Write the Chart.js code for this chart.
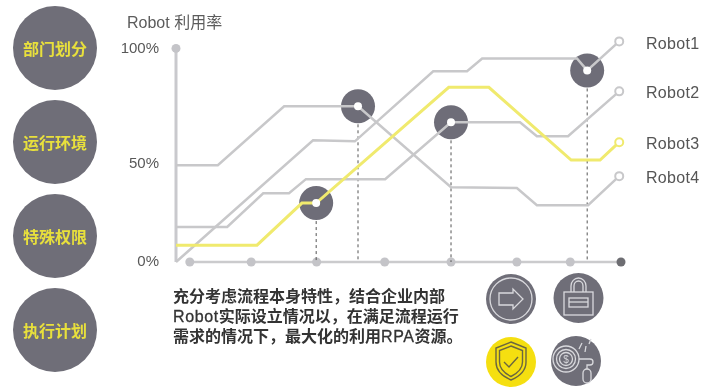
<!DOCTYPE html>
<html lang="zh">
<head>
<meta charset="utf-8">
<title>Robot 利用率</title>
<script src="https://cdn.jsdelivr.net/npm/chart.js@4"></script>
<style>
    html, body { margin: 0; padding: 0; background: #fff; }
    #page { position: relative; width: 701px; height: 389px; overflow: hidden; font-family: "Liberation Sans", "Noto Sans CJK SC", sans-serif; }
    #chart { position: absolute; left: 0; top: 0; }
    .badge {
        position: absolute; left: 13px; width: 84px; height: 84px; border-radius: 50%;
        background: #6f6e78; color: #e8e03c; display: flex; align-items: center; justify-content: center;
        font: 700 16px "Noto Sans CJK SC", sans-serif;
    }
    .axis-title { position: absolute; left: 127px; top: 13px; font-size: 16px; line-height: 20px; color: #5c5c5c; }
    .series-name { position: absolute; left: 646px; font-size: 16px; line-height: 20px; color: #555; letter-spacing: 0.3px; }
    .note {
        position: absolute; left: 173px; top: 286px; white-space: nowrap;
        font: 700 16px/19.6px "Noto Sans CJK SC", sans-serif; color: #333;
    }
    .note span { font: 400 16px/19.6px "Liberation Sans", sans-serif; letter-spacing: 0.6px; -webkit-text-stroke: 0.3px #333; }
    #icons { position: absolute; left: 0; top: 0; }
    #icons .thin { fill: none; stroke: #d9d9dd; stroke-width: 1.3; }
    #icons .dark { fill: none; stroke: #6b6740; stroke-width: 1.4; }
</style>
</head>
<body>
<div id="page">
    <canvas id="chart" width="701" height="389"></canvas>
    <div class="axis-title">Robot 利用率</div>
    <div id="badges"></div>
    <div id="names"></div>
    <div class="note">充分考虑流程本身特性，结合企业内部<br><span>Robot</span>实际设立情况以，在满足流程运行<br>需求的情况下，最大化的利用<span>RPA</span>资源。</div>
    <svg id="icons" width="701" height="389">
        <!-- process -->
        <circle cx="511" cy="299" r="25" fill="#6f6e78"/>
        <circle class="thin" cx="511" cy="299" r="21"/>
        <path class="thin" d="M499,293H513V289L523,299L513,309V305H499Z"/>
        <!-- lock -->
        <circle cx="578.5" cy="298" r="25" fill="#6f6e78"/>
        <rect class="thin" x="564" y="292" width="29" height="23"/>
        <path class="thin" d="M571,292V286A7.5,8 0 0 1 586,286V292M574,292V286A4.5,5 0 0 1 583,286V292"/>
        <rect class="thin" x="569" y="298" width="19" height="9"/>
        <path class="thin" d="M569,302H588"/>
        <!-- shield -->
        <circle cx="511" cy="362" r="25" fill="#f5df10"/>
        <path class="dark" d="M511,342L526,348V362C526,371 518,377 511,380C504,377 496,371 496,362V348Z"/>
        <path class="dark" d="M511,346L522.500,350.500V362C522.500,369 516,374 511,376.500C506,374 499.500,369 499.500,362V350.500Z"/>
        <path class="dark" d="M504,362L509,367L518,357" stroke-width="2"/>
        <!-- coin and mouse -->
        <circle cx="576" cy="361" r="25" fill="#6f6e78"/>
        <circle class="thin" cx="566" cy="359" r="13"/>
        <circle class="thin" cx="566" cy="359" r="9.500"/>
        <circle class="thin" cx="566" cy="359" r="6.500"/>
        <text x="566" y="363" text-anchor="middle" font-size="10" fill="#d9d9dd">$</text>
        <path class="thin" d="M579,359H590C594,359 594,365 590,365H587V369"/>
        <rect class="thin" x="583" y="369" width="8" height="14" rx="4"/>
        <path class="thin" d="M579,349L582,343M585,352L586,346M589,344L591,339"/>
    </svg>
</div>
<script>
// ── Robot utilisation chart ───────────────────────────────────────────────
const seriesNames = ['Robot1', 'Robot2', 'Robot3', 'Robot4'];
const robot1X = [0, 30.8, 40.2, 57.8, 65.4, 68.8, 90.1, 92.4, 99.6];
const robot1Y = [0, 57.0, 56.5, 89.3, 89.3, 95.3, 95.3, 89.7, 103.3];
const robot2X = [0, 11.5, 19.6, 25.4, 29.2, 47.0, 61.8, 77.3, 81.1, 88.1, 99.6];
const robot2Y = [16.4, 16.4, 32.2, 32.2, 38.8, 38.8, 65.4, 65.4, 58.9, 58.9, 79.9];
const robot3X = [0, 18.2, 28.3, 31.5, 61.3, 70.3, 88.8, 95.3, 99.6];
const robot3Y = [7.9, 7.9, 27.6, 27.6, 81.8, 81.8, 47.7, 47.7, 56.1];
const robot4X = [0, 9.4, 24.3, 40.9, 61.8, 76.6, 81.1, 92.6, 99.6];
const robot4Y = [45.3, 45.3, 72.9, 72.9, 35.0, 34.6, 26.6, 26.6, 40.2];

// highlighted points on the lines, each with a drop line to the time axis
const hubX = [31.5, 40.9, 61.8, 92.4];
const hubY = [27.6, 72.9, 65.4, 89.7];

const axisDotX = [3.1, 16.9, 31.6, 46.9, 61.8, 76.6, 88.6, 100];
const yTickValues = [0, 45.8, 100];
const yTickLabels = ['0%', '50%', '100%'];

const badgeLabels = ['部门划分', '运行环境', '特殊权限', '执行计划'];
const badgeTops = [6, 100, 194, 288];
const nameTops = [34, 83, 134, 168];

const GREY = '#c8c8ca';
const AXIS_GREY = '#c9c9cd';
const YELLOW = '#f0ea6e';
const HUB = '#6e6d78';

badgeLabels.forEach((txt, i) => {
    const el = document.createElement('div');
    el.className = 'badge';
    el.style.top = badgeTops[i] + 'px';
    el.textContent = txt;
    document.getElementById('badges').appendChild(el);
});

seriesNames.forEach((txt, i) => {
    const el = document.createElement('div');
    el.className = 'series-name';
    el.style.top = nameTops[i] + 'px';
    el.textContent = txt;
    document.getElementById('names').appendChild(el);
});

function toPoints(xs, ys) {
    return xs.map((x, i) => ({ x, y: ys[i] }));
}

function robotDataset(name, xs, ys, color, width, order) {
    return {
        label: name,
        data: toPoints(xs, ys),
        borderColor: color,
        borderWidth: width,
        backgroundColor: '#fff',
        pointBackgroundColor: '#fff',
        pointBorderColor: color,
        pointBorderWidth: 2,
        pointRadius: ctx => ctx.dataIndex === xs.length - 1 ? 4 : 0,
        pointHoverRadius: 0,
        clip: false,
        order
    };
}

const datasets = [
    // white centres stay above every line
    {
        data: toPoints(hubX, hubY), showLine: false, pointRadius: 4, pointBorderWidth: 0,
        pointBackgroundColor: '#fff', clip: false, order: 1
    },
    robotDataset(seriesNames[2], robot3X, robot3Y, YELLOW, 3, 2),
    robotDataset(seriesNames[0], robot1X, robot1Y, GREY, 2.5, 3),
    robotDataset(seriesNames[1], robot2X, robot2Y, GREY, 2.5, 3),
    robotDataset(seriesNames[3], robot4X, robot4Y, GREY, 2.5, 3),
    {
        data: toPoints(hubX, hubY), showLine: false, pointRadius: 17, pointBorderWidth: 0,
        pointBackgroundColor: HUB, clip: false, order: 4
    },
    // time axis with its stops, the last one darker
    {
        data: axisDotX.map(x => ({ x, y: 0 })),
        borderColor: '#cbcbcd', borderWidth: 2.5,
        pointRadius: 4.5, pointBorderWidth: 0,
        pointBackgroundColor: axisDotX.map((x, i) => i === axisDotX.length - 1 ? '#6d6d72' : '#c4c4c8'),
        clip: false, order: 6
    },
    // value axis with a cap on top
    {
        data: [{ x: 0, y: 0 }, { x: 0, y: 100 }],
        borderColor: AXIS_GREY, borderWidth: 3,
        pointRadius: ctx => ctx.dataIndex === 1 ? 4.5 : 0, pointBorderWidth: 0,
        pointBackgroundColor: '#c4c4c8', clip: false, order: 6
    }
];

hubX.forEach((x, i) => {
    datasets.push({
        data: [{ x, y: hubY[i] }, { x, y: 0 }],
        borderColor: '#555', borderWidth: 1, borderDash: [3, 3],
        pointRadius: 0, clip: false, order: 5
    });
});

new Chart(document.getElementById('chart').getContext('2d'), {
    type: 'line',
    data: { datasets },
    options: {
        animation: false,
        responsive: false,
        events: [],
        // top padding leaves head room above 100 for the Robot1 end point
        layout: { padding: { left: 0, right: 80, top: 22, bottom: 127 } },
        plugins: { legend: { display: false }, tooltip: { enabled: false } },
        scales: {
            x: { type: 'linear', min: 0, max: 100, display: false },
            y: {
                type: 'linear', min: 0, max: 110.5,
                afterFit: scale => { scale.width = 176; },
                afterBuildTicks: scale => { scale.ticks = yTickValues.map(value => ({ value })); },
                grid: { display: false, drawTicks: false },
                border: { display: false },
                ticks: {
                    padding: 17,
                    color: '#585858',
                    font: { family: '"Liberation Sans", sans-serif', size: 15 },
                    callback: value => yTickLabels[yTickValues.indexOf(value)]
                }
            }
        }
    }
});
</script>
</body>
</html>
